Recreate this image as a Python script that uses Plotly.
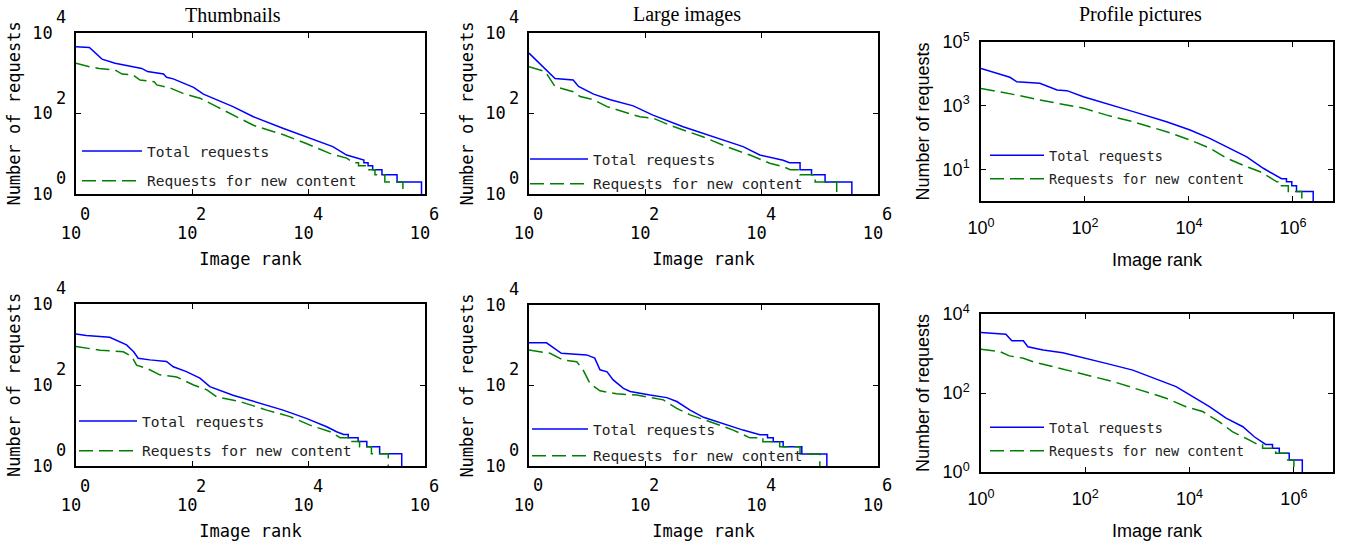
import plotly.graph_objects as go

W, H = 1347, 547

# ---------------- data ----------------
panel_titles = ["Thumbnails", "Large images", "Profile pictures"]
series_names = ["Total requests", "Requests for new content"]
x_label = "Image rank"
y_label = "Number of requests"

# Top-left: Thumbnails
thumb_total_rank = [1, 1.7, 2.8, 4.7, 9.5, 13.5, 17, 32, 36, 47, 105, 155, 500, 1120, 3600, 9100,
                    26000, 45000, 81000, 89000, 89000, 105000, 105000, 126000, 126000, 182000,
                    182000, 331000, 331000, 871000, 871000]
thumb_total_req = [4570, 4370, 2240, 1780, 1450, 1320, 1100, 955, 795, 725, 447, 302, 148, 83, 43, 26,
                   15, 9.3, 7.5, 7, 6, 6, 5, 5, 4, 4, 3, 3, 2, 2, 1]
thumb_new_rank = [1, 1.7, 2.5, 4.7, 6.2, 9.5, 12.6, 22, 24.5, 42, 69, 135, 263, 500, 1120, 3600, 9100,
                  23000, 45000, 59000, 72000, 72000, 100000, 100000, 138000, 138000, 204000, 204000,
                  417000, 417000]
thumb_new_req = [1780, 1450, 1320, 1200, 955, 912, 676, 617, 513, 427, 316, 240, 148, 91, 51, 30, 18,
                 10.2, 7.8, 6, 6, 5, 5, 4, 4, 3, 3, 2, 2, 1]

# Top-middle: Large images
large_total_rank = [1, 2.8, 5.75, 7.1, 12.9, 25, 62, 135, 447, 1480, 4790, 9300, 23400, 30000, 45700,
                    45700, 72000, 72000, 123000, 123000, 355000, 355000]
large_total_req = [3160, 740, 676, 468, 302, 219, 155, 91, 47, 26, 15, 9.3, 6.9, 6, 6, 4, 4, 3, 3, 2,
                   2, 1]
large_new_rank = [1, 1.9, 2.3, 2.8, 5.75, 7.6, 12.9, 22, 42, 81, 138, 263, 447, 1000, 2500, 6300,
                  13800, 23400, 31000, 45700, 45700, 83000, 83000, 195000, 195000]
large_new_req = [1450, 1100, 724, 468, 347, 263, 219, 148, 110, 83, 76, 51, 39, 26, 15, 9.3, 5.8, 4.8,
                 4, 4, 3, 3, 2, 2, 1]

# Top-right: Profile pictures
prof_total_rank = [1, 3.6, 4.9, 13.5, 29, 45, 93, 263, 850, 3700, 10500, 25100, 53700, 129000, 269000,
                   389000, 500000, 603000, 750000, 750000, 950000, 950000, 1170000, 1170000, 2450000,
                   2450000]
prof_total_req = [14800, 7760, 5620, 5010, 3090, 2950, 1900, 1175, 646, 309, 170, 93, 51, 24.5, 10.7,
                  7.4, 6, 5, 5, 4, 4, 3, 3, 2, 2, 1]
prof_new_rank = [1, 2.3, 4.9, 13.5, 45, 93, 263, 850, 3700, 10500, 25100, 53700, 129000, 234000,
                 339000, 490000, 600000, 600000, 813000, 813000, 1480000, 1480000]
prof_new_req = [3470, 2750, 2140, 1510, 1050, 832, 501, 309, 151, 83, 46, 22, 12, 8.3, 5.8, 4, 4, 3,
                3, 2, 2, 1]

# Bottom-left
bl_total_rank = [1, 1.5, 3.8, 7.4, 9.8, 11.7, 18.6, 36, 47, 79, 135, 200, 500, 1450, 3630, 9100, 20400,
                 30200, 40000, 47900, 47900, 70800, 70800, 100000, 100000, 166000, 166000, 398000,
                 398000]
bl_total_req = [1820, 1660, 1510, 977, 661, 457, 417, 380, 282, 214, 148, 91, 56, 35, 24, 15, 9.3, 7,
                6, 6, 5, 5, 4, 4, 3, 3, 2, 2, 1]
bl_new_rank = [1, 2.6, 6.5, 9.1, 11, 16.6, 27.5, 54, 105, 178, 263, 660, 1900, 4790, 10500, 23400,
               34700, 50000, 50000, 75000, 75000, 120000, 120000, 234000, 234000]
bl_new_req = [890, 724, 661, 501, 309, 257, 178, 158, 100, 76, 51, 39, 24, 16.6, 10.2, 7, 5, 5, 4, 4,
              3, 3, 2, 2, 1]

# Bottom-middle
bm_total_rank = [1, 2, 3.6, 9.8, 13.5, 16.6, 22, 28, 42, 55, 120, 234, 347, 589, 1000, 2510, 4790,
                 9330, 12600, 12600, 15800, 15800, 23400, 23400, 49000, 49000, 132000, 132000]
bm_total_req = [1150, 1150, 631, 575, 479, 245, 219, 138, 85, 71, 58, 50, 40, 24.5, 16.2, 10.5, 7.8,
                6, 6, 5, 5, 4, 4, 3, 3, 2, 2, 1]
bm_new_rank = [1, 2.3, 3.9, 6.6, 8.5, 11.2, 16.6, 32, 71, 155, 204, 347, 589, 1290, 3240, 6300, 10500,
               10500, 20400, 20400, 45700, 45700, 100000, 100000]
bm_new_req = [760, 631, 427, 389, 245, 112, 74, 62, 58, 48, 44, 27, 18.6, 12.6, 7.8, 5, 5, 4, 4, 3, 3,
              2, 2, 1]

# Bottom-right
br_total_rank = [1, 3, 3.9, 6.5, 7.9, 15.5, 37, 91, 251, 813, 2630, 5500, 11500, 24000, 50100, 105000,
                 174000, 288000, 389000, 389000, 525000, 525000, 813000, 813000, 1450000, 1450000]
br_total_req = [3390, 3090, 2090, 2090, 1480, 1230, 1050, 794, 562, 380, 214, 145, 81, 45, 23, 14, 7.8,
                5, 5, 4, 4, 3, 3, 2, 2, 1]
br_new_rank = [1, 2.3, 3.5, 6.5, 10, 18, 44, 105, 339, 1100, 3550, 8500, 17800, 37200, 66000, 138000,
               200000, 251000, 251000, 447000, 447000, 760000, 760000, 1000000, 1000000]
br_new_req = [1290, 1120, 871, 759, 617, 513, 380, 288, 195, 120, 74, 45, 34, 18.6, 10.5, 6.5, 5, 5, 4,
              4, 3, 3, 2, 2, 1]

# tick decades
mono_x_exp = [0, 2, 4, 6]
mono_y_exp = [0, 2, 4]
prof_x_exp = [0, 2, 4, 6]
prof_y_exp = [1, 3, 5]
br_y_exp = [0, 2, 4]
tick_base = "10"

# ---------------- styling / layout ----------------
MONO = "DejaVu Sans Mono"
SANS = "Liberation Sans, Arial"
SERIF = "Liberation Serif, Times New Roman"
BLUE = "#0000ff"
GREEN = "#008000"
NB = "\u00a0"


def sup_text(e):
    return f"{tick_base}<sup>{e}</sup>"


panels = [
    dict(t=(thumb_total_rank, thumb_total_req), n=(thumb_new_rank, thumb_new_req),
         xd=(76, 425), yd=(33, 194), xr=(0, 6), yr=(0, 4), xe=mono_x_exp, ye=mono_y_exp,
         mono=True, leg=(147, 152, 28, 60)),
    dict(t=(large_total_rank, large_total_req), n=(large_new_rank, large_new_req),
         xd=(529, 878), yd=(33, 194), xr=(0, 6), yr=(0, 4), xe=mono_x_exp, ye=mono_y_exp,
         mono=True, leg=(593, 160, 23, 58)),
    dict(t=(prof_total_rank, prof_total_req), n=(prof_new_rank, prof_new_req),
         xd=(981, 1333), yd=(42, 201), xr=(0, 6.77), yr=(0, 5), xe=prof_x_exp, ye=prof_y_exp,
         mono=False, leg=(1049, 157, 23, 54)),
    dict(t=(bl_total_rank, bl_total_req), n=(bl_new_rank, bl_new_req),
         xd=(76, 425), yd=(304, 466), xr=(0, 6), yr=(0, 4), xe=mono_x_exp, ye=mono_y_exp,
         mono=True, leg=(142, 422, 28, 58)),
    dict(t=(bm_total_rank, bm_total_req), n=(bm_new_rank, bm_new_req),
         xd=(529, 878), yd=(305, 466), xr=(0, 6), yr=(0, 4), xe=mono_x_exp, ye=mono_y_exp,
         mono=True, leg=(593, 430, 25, 56)),
    dict(t=(br_total_rank, br_total_req), n=(br_new_rank, br_new_req),
         xd=(981, 1333), yd=(314, 472), xr=(0, 6.75), yr=(0, 4), xe=prof_x_exp, ye=br_y_exp,
         mono=False, leg=(1049, 429, 23, 54)),
]

fig = go.Figure()
layout = dict(template="none", width=W, height=H, margin=dict(l=0, r=0, t=0, b=0, pad=0),
              paper_bgcolor="white", plot_bgcolor="white", showlegend=True)
annotations = []

for i, p in enumerate(panels, start=1):
    sfx = "" if i == 1 else str(i)
    lg = "legend" if i == 1 else f"legend{i}"
    for (xs, ys), name, col, dash in ((p["t"], series_names[0], BLUE, "solid"),
                                      (p["n"], series_names[1], GREEN, "14px,6px")):
        fig.add_trace(go.Scatter(x=xs, y=ys, mode="lines", name=name,
                                 line=dict(color=col, width=1.5, dash=dash),
                                 xaxis=f"x{sfx}", yaxis=f"y{sfx}", legend=lg,
                                 legendgroup=f"{lg}-{name}", hoverinfo="skip"))
    mono = p["mono"]
    tfont = dict(family=MONO if mono else SANS, size=17 if mono else 18, color="black")
    if mono:
        # MATLAB-style labels: base "10" at the tick, exponent drawn separately above-right
        xtext = [tick_base + NB for _ in p["xe"]]
        ytext = [tick_base for _ in p["ye"]]
        for e in p["xe"]:
            annotations.append(dict(text=str(e), xref=f"x{sfx}", x=e, yref=f"y{sfx} domain", y=0,
                                    xanchor="center", yanchor="middle", xshift=9, yshift=-19.5,
                                    showarrow=False, font=tfont))
        for e in p["ye"]:
            annotations.append(dict(text=str(e), xref=f"x{sfx} domain", x=0, yref=f"y{sfx}", y=e,
                                    xanchor="right", yanchor="middle", xshift=-8, yshift=16,
                                    showarrow=False, font=tfont))
    else:
        xtext = [sup_text(e) for e in p["xe"]]
        ytext = [sup_text(e) for e in p["ye"]]
    common = dict(type="log", showgrid=False, zeroline=False, showline=True, mirror="ticks",
                  linecolor="black", linewidth=1.5, ticks="inside", ticklen=5, tickwidth=1.2,
                  tickcolor="black", tickfont=tfont, automargin=False)
    layout[f"xaxis{sfx}"] = dict(common, domain=[p["xd"][0] / W, p["xd"][1] / W], range=list(p["xr"]),
                                 tickvals=[10 ** e for e in p["xe"]], ticktext=xtext,
                                 anchor=f"y{sfx}", ticklabelstandoff=(23 if mono else 10),
                                 title=dict(text=x_label, font=tfont, standoff=11 if mono else 16))
    layout[f"yaxis{sfx}"] = dict(common, domain=[1 - p["yd"][1] / H, 1 - p["yd"][0] / H],
                                 range=list(p["yr"]),
                                 tickvals=[10 ** e for e in p["ye"]], ticktext=ytext,
                                 anchor=f"x{sfx}", ticklabelstandoff=(18 if mono else 6),
                                 title=dict(text=y_label, font=tfont, standoff=(7 if mono else 8)))
    tx, ty, gap, iw = p["leg"]
    layout[lg] = dict(x=(tx - 10 - iw) / W, y=1 - (ty - 17) / H, xanchor="left", yanchor="top",
                      bgcolor="rgba(0,0,0,0)", borderwidth=0, traceorder="grouped",
                      tracegroupgap=gap - 20, itemwidth=iw,
                      font=dict(family=MONO, size=14.5 if mono else 13.5, color="#222222"))

title_x = [233, 687, 1140]
title_y = [15, 15, 15]
for t, xc, yc in zip(panel_titles, title_x, title_y):
    annotations.append(dict(text=t, x=xc / W, y=1 - yc / H, xref="paper", yref="paper",
                            xanchor="center", yanchor="middle", showarrow=False,
                            font=dict(family=SERIF, size=20, color="black")))
layout["annotations"] = annotations

fig.update_layout(**layout)
fig.write_html("out.html", config={"displayModeBar": False},
               post_script="document.body.style.margin='0px';")
